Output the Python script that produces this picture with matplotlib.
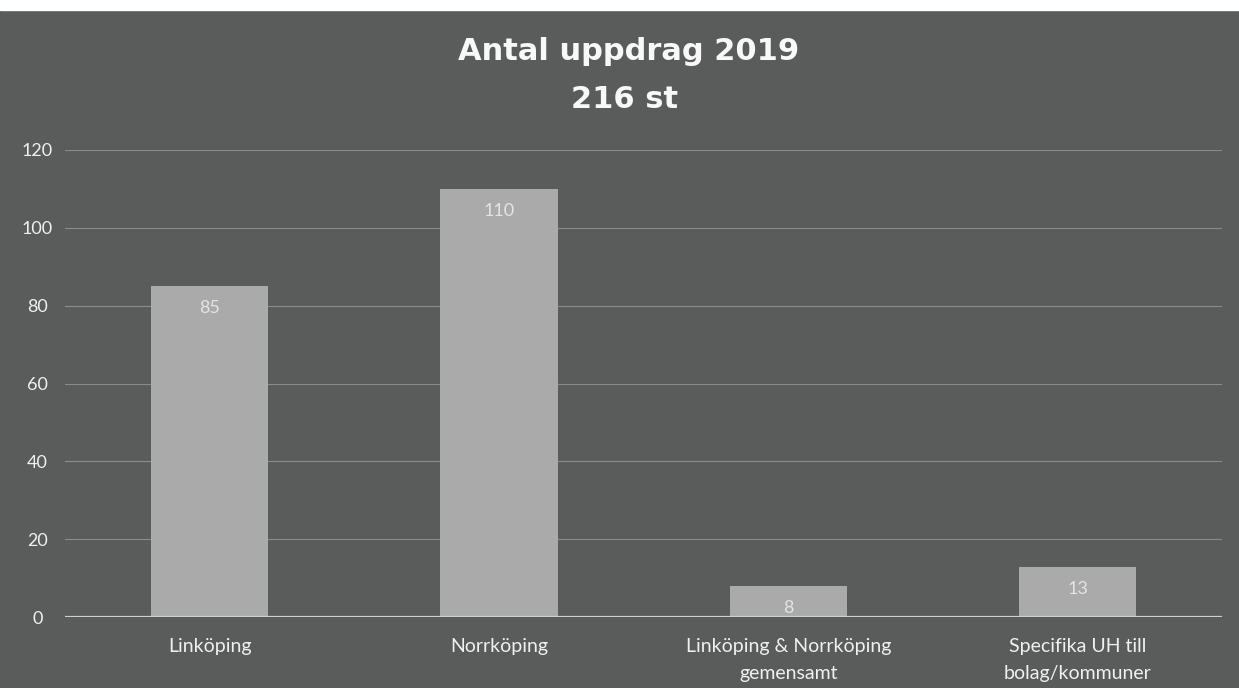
import matplotlib
matplotlib.use("Agg")
import matplotlib.pyplot as plt
from matplotlib.patches import Rectangle

plt.rcParams['font.family'] = ['Lato', 'DejaVu Sans']

categories = ["Linköping", "Norrköping", "Linköping & Norrköping\ngemensamt", "Specifika UH till\nbolag/kommuner"]
values = [85, 110, 8, 13]
yticks = [0, 20, 40, 60, 80, 100, 120]

bg = "#595c5a"
bar_color = "#a9aaa9"
text_color = "#f0f0f0"

fig = plt.figure(figsize=(12.39, 6.88), dpi=100, facecolor=bg)
ax = fig.add_axes([0.0525, 0.103, 0.934, 0.679])
ax.set_facecolor(bg)

x = range(len(categories))
bars = ax.bar(x, values, width=0.405, color=bar_color, zorder=3)

for b, v in zip(bars, values):
    ax.annotate(str(v), (b.get_x() + b.get_width() / 2, v), xytext=(0, -16),
                textcoords="offset points", ha="center", va="center",
                color="#e4e4e4", fontsize=13, zorder=4)

ax.set_xlim(-0.5, len(categories) - 0.5)
ax.set_ylim(0, 120)
ax.set_yticks(yticks)
ax.set_xticks(list(x))
ax.set_xticklabels(categories, linespacing=1.75)
ax.grid(axis="y", color="#8a8c8b", linewidth=0.8, zorder=0)
ax.axhline(0, color="#cfcfcf", linewidth=1.6, zorder=5)

for s in ax.spines.values():
    s.set_visible(False)
ax.tick_params(axis="both", length=0, colors=text_color)
ax.tick_params(axis="x", pad=15, labelsize=14)
ax.tick_params(axis="y", pad=20, labelsize=13)
for lab in ax.get_yticklabels():
    lab.set_horizontalalignment("center")

title_font = ["DejaVu Sans"]
fig.text(0.507, 0.925, "Antal uppdrag 2019", ha="center", va="center",
         fontsize=22, fontweight="bold", color="#f8f8f8", family=title_font)
fig.text(0.504, 0.855, "216 st", ha="center", va="center",
         fontsize=22, fontweight="bold", color="#f8f8f8", family=title_font)

# white scan strip at top
fig.patches.append(Rectangle((0, 0.985), 1, 0.015, transform=fig.transFigure,
                             color="white", zorder=10))

fig.savefig("out.png", dpi=100, facecolor=bg)
